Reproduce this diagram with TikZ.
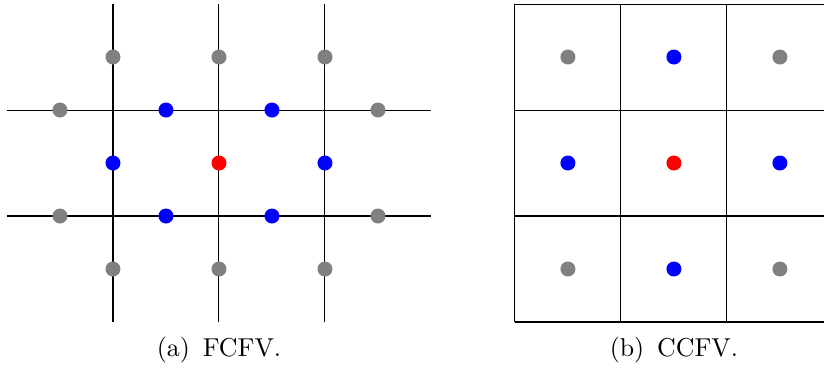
\documentclass[tikz,border=0pt]{standalone}
\usepackage{xcolor}
\usepackage{tikz}
\usetikzlibrary{positioning}

\begin{document}
\begin{tikzpicture}[scale=1.44,
    dot/.style={circle, inner sep=0pt, minimum size=5.8pt},
    face/.style={dot, fill=blue},
    cell/.style={dot, fill=red},
    nbr/.style={dot, fill=gray}]
    \useasboundingbox (-2.066,-1.943) rectangle (5.708,1.538);

    % FCFV
    \foreach \x in {-1,0,1}
        \draw (\x,-1.5) -- (\x,1.5);
    \foreach \y in {-0.5,0.5}
        \draw (-2,\y) -- (2,\y);
    \foreach \x/\y [count=\i] in {-1/1,0/1,1/1,-1/-1,0/-1,1/-1,-1.5/0.5,1.5/0.5,-1.5/-0.5,1.5/-0.5}
        \node[nbr] (fn\i) at (\x,\y) {};
    \foreach \x/\y [count=\i] in {-0.5/0.5,0.5/0.5,-0.5/-0.5,0.5/-0.5,-1/0,1/0}
        \node[face] (ff\i) at (\x,\y) {};
    \node[cell] (fc) at (0,0) {};
    \node (fcap) at (0,-1.765) {(a)\enspace FCFV.};

    % CCFV
    \draw[shift={(2.792,-1.5)}] (0,0) grid (3,3);
    \foreach \x/\y [count=\i] in {-1/1,1/1,-1/-1,1/-1}
        \node[nbr] (cn\i) at (4.292+\x,\y) {};
    \foreach \x/\y [count=\i] in {0/1,0/-1,-1/0,1/0}
        \node[face] (cf\i) at (4.292+\x,\y) {};
    \node[cell] (cc) at (4.292,0) {};
    \node (ccap) at (4.292,-1.765) {(b)\enspace CCFV.};
\end{tikzpicture}
\end{document}
